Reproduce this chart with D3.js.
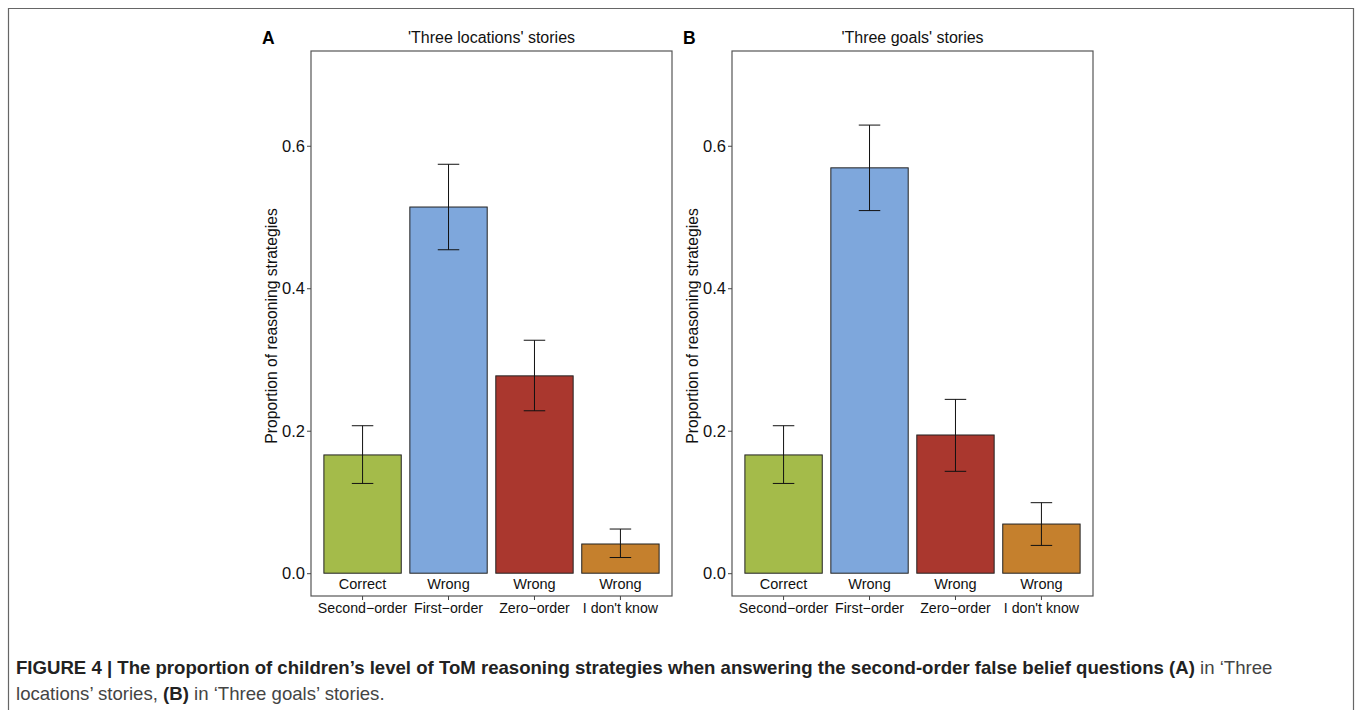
<!DOCTYPE html>
<html>
<head>
<meta charset="utf-8">
<script src="https://d3js.org/d3.v7.min.js"></script>
<style>
  body { margin: 0; background: #fff; }
  text { font-family: "Liberation Sans", Arial, sans-serif; }
</style>
</head>
<body>
<svg width="1358" height="710"></svg>

<script>

var categories = ["Second\u2212order", "First\u2212order", "Zero\u2212order", "I don't know"],
    accuracy = ["Correct", "Wrong", "Wrong", "Wrong"],
    colors = ["#a4bb4a", "#7ea7dc", "#aa372e", "#c5802d"];

var locMean = [0.166, 0.514, 0.277, 0.041],
    locLow = [0.126, 0.454, 0.228, 0.022],
    locHigh = [0.207, 0.574, 0.327, 0.062];

var goalMean = [0.166, 0.569, 0.194, 0.069],
    goalLow = [0.126, 0.509, 0.143, 0.039],
    goalHigh = [0.207, 0.629, 0.244, 0.099];

var yTicks = [0, 0.2, 0.4, 0.6];

var svg = d3.select("svg");

// outer figure frame
svg.append("path")
    .attr("d", "M8.5,710V8.5H1353.5V710")
    .attr("fill", "none")
    .attr("stroke", "#666")
    .attr("stroke-width", 1.2);

var y = d3.scaleLinear()
    .domain([-0.032, 0.733])
    .range([596, 51]);

function panel(left, letter, title, mean, low, high) {
  var right = left + 361;

  var x = d3.scaleBand()
      .domain(categories)
      .range([left, right])
      .paddingInner(0.1)
      .paddingOuter(0.15);

  var g = svg.append("g");

  g.selectAll("rect.bar")
    .data(categories)
    .enter().append("rect")
      .attr("class", "bar")
      .attr("x", function(d) { return x(d); })
      .attr("width", x.bandwidth())
      .attr("y", function(d, i) { return y(mean[i]); })
      .attr("height", function(d, i) { return y(0) - y(mean[i]); })
      .attr("fill", function(d, i) { return colors[i]; })
      .attr("stroke", "#222")
      .attr("stroke-width", 1);

  var cap = x.step() * 0.125;
  var err = g.selectAll("g.err")
    .data(categories)
    .enter().append("g")
      .attr("class", "err")
      .attr("stroke", "#111")
      .attr("stroke-width", 1);
  err.append("line")
      .attr("x1", function(d) { return x(d) + x.bandwidth() / 2; })
      .attr("x2", function(d) { return x(d) + x.bandwidth() / 2; })
      .attr("y1", function(d, i) { return y(low[i]); })
      .attr("y2", function(d, i) { return y(high[i]); });
  err.append("line")
      .attr("x1", function(d) { return x(d) + x.bandwidth() / 2 - cap; })
      .attr("x2", function(d) { return x(d) + x.bandwidth() / 2 + cap; })
      .attr("y1", function(d, i) { return y(low[i]); })
      .attr("y2", function(d, i) { return y(low[i]); });
  err.append("line")
      .attr("x1", function(d) { return x(d) + x.bandwidth() / 2 - cap; })
      .attr("x2", function(d) { return x(d) + x.bandwidth() / 2 + cap; })
      .attr("y1", function(d, i) { return y(high[i]); })
      .attr("y2", function(d, i) { return y(high[i]); });

  // Correct / Wrong labels inside the plot
  g.selectAll("text.acc")
    .data(categories)
    .enter().append("text")
      .attr("class", "acc")
      .attr("x", function(d) { return x(d) + x.bandwidth() / 2; })
      .attr("y", 589)
      .attr("text-anchor", "middle")
      .attr("font-size", 14.5)
      .attr("fill", "#111")
      .text(function(d, i) { return accuracy[i]; });

  // panel border
  g.append("rect")
      .attr("x", left)
      .attr("y", 51)
      .attr("width", right - left)
      .attr("height", 545)
      .attr("fill", "none")
      .attr("stroke", "#555")
      .attr("stroke-width", 1.2);

  var yAxis = g.append("g")
      .attr("transform", "translate(" + left + ",0)")
      .call(d3.axisLeft(y).tickValues(yTicks).tickFormat(d3.format(".1f")).tickSize(4).tickPadding(2));
  yAxis.select(".domain").remove();
  yAxis.selectAll("line").attr("stroke", "#444");
  yAxis.selectAll("text")
      .attr("font-size", 16.5)
      .attr("fill", "#111")
      .style("font-family", "'Liberation Sans', Arial, sans-serif");

  var xAxis = g.append("g")
      .attr("transform", "translate(0,596)")
      .call(d3.axisBottom(x).tickSize(4).tickPadding(3));
  xAxis.select(".domain").remove();
  xAxis.selectAll("line").attr("stroke", "#444");
  xAxis.selectAll("text")
      .attr("font-size", 14.2)
      .attr("fill", "#111")
      .style("font-family", "'Liberation Sans', Arial, sans-serif");

  g.append("text")
      .attr("transform", "translate(" + (left - 34) + "," + 326 + ") rotate(-90)")
      .attr("text-anchor", "middle")
      .attr("font-size", 15.7)
      .attr("fill", "#111")
      .text("Proportion of reasoning strategies");

  g.append("text")
      .attr("x", (left + right) / 2)
      .attr("y", 43)
      .attr("text-anchor", "middle")
      .attr("font-size", 16)
      .attr("fill", "#111")
      .text(title);

  g.append("text")
      .attr("x", left - 49)
      .attr("y", 44)
      .attr("font-size", 17.5)
      .attr("font-weight", "bold")
      .attr("fill", "#000")
      .text(letter);
}

panel(311, "A", "'Three locations' stories", locMean, locLow, locHigh);
panel(732, "B", "'Three goals' stories", goalMean, goalLow, goalHigh);

// caption
var cap1 = svg.append("text")
    .attr("x", 16)
    .attr("y", 674)
    .attr("font-size", 18.6)
    .style("font-family", "'Liberation Sans Narrow', 'Liberation Sans', Arial, sans-serif");
cap1.append("tspan").attr("font-weight", "bold").attr("fill", "#222")
    .text("FIGURE 4 | The proportion of children\u2019s level of ToM reasoning strategies when answering the second-order false belief questions (A)");
cap1.append("tspan").attr("fill", "#444").text(" in \u2018Three");

var cap2 = svg.append("text")
    .attr("x", 16)
    .attr("y", 700)
    .attr("font-size", 18.6)
    .style("font-family", "'Liberation Sans Narrow', 'Liberation Sans', Arial, sans-serif");
cap2.append("tspan").attr("fill", "#444").text("locations\u2019 stories, ");
cap2.append("tspan").attr("font-weight", "bold").attr("fill", "#222").text("(B)");
cap2.append("tspan").attr("fill", "#444").text(" in \u2018Three goals\u2019 stories.");

</script>
</body>
</html>
